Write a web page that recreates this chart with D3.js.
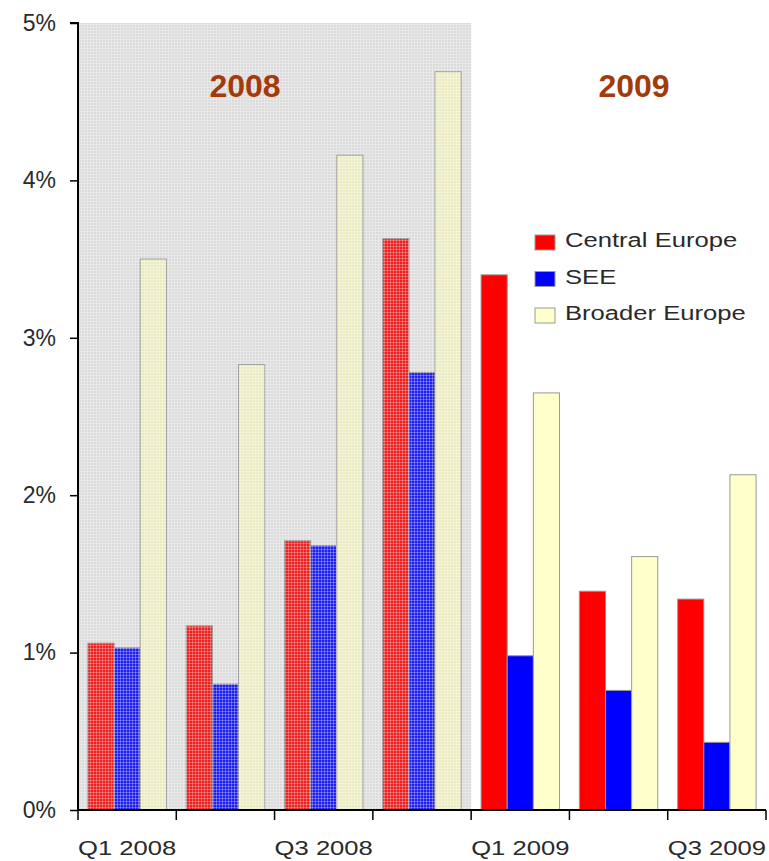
<!DOCTYPE html>
<html>
<head>
<meta charset="utf-8">
<script src="https://cdn.jsdelivr.net/npm/d3@7"></script>
<style>
  html, body { margin: 0; padding: 0; background: #fff; }
  svg { display: block; font-family: "Liberation Sans", Arial, sans-serif; }
</style>
</head>
<body>
<svg id="chart" width="769" height="861"></svg>
<script>
// Quarterly values (percent) by region
const quarters = ["Q1 2008", "Q2 2008", "Q3 2008", "Q4 2008", "Q1 2009", "Q2 2009", "Q3 2009"];
const quarterLabels = ["Q1 2008", "", "Q3 2008", "", "Q1 2009", "", "Q3 2009"];
const seriesNames = ["Central Europe", "SEE", "Broader Europe"];
const centralEurope = [1.06, 1.17, 1.71, 3.63, 3.40, 1.39, 1.34];
const see = [1.03, 0.80, 1.68, 2.78, 0.98, 0.76, 0.43];
const broaderEurope = [3.50, 2.83, 4.16, 4.69, 2.65, 1.61, 2.13];
const seriesColors = ["#ff0000", "#0000ff", "#ffffcc"];
const yTicks = [0, 1, 2, 3, 4, 5];
const periods = [
  { label: "2008", from: "Q1 2008", to: "Q4 2008", shaded: true },
  { label: "2009", from: "Q1 2009", to: "Q3 2009", shaded: false }
];

const seriesValues = [centralEurope, see, broaderEurope];
const svg = d3.select("#chart");
const margin = { top: 23, right: 3, bottom: 51, left: 78 };
const W = 769, H = 861;
const x0 = margin.left, x1 = W - margin.right;
const yTop = margin.top, yBot = H - margin.bottom;
const stretch = 1.22;
const textColor = "#2a2a2a";

const x = d3.scaleBand().domain(quarters).range([x0, x1]).paddingInner(0).paddingOuter(0);
const xs = d3.scaleBand().domain(seriesNames).range([0, x.bandwidth()]).paddingInner(0).paddingOuter(0.38);
const y = d3.scaleLinear().domain([0, 5]).range([yBot, yTop]);

// Fine grid textures
const defs = svg.append("defs");
const bgPat = defs.append("pattern").attr("id", "gridBg")
  .attr("patternUnits", "userSpaceOnUse").attr("width", 3).attr("height", 3);
bgPat.append("rect").attr("width", 3).attr("height", 3).attr("fill", "#dadada");
bgPat.append("rect").attr("width", 3).attr("height", 1).attr("fill", "#e9e9e9");
bgPat.append("rect").attr("width", 1).attr("height", 3).attr("fill", "#e9e9e9");

const ovPat = defs.append("pattern").attr("id", "gridOverlay")
  .attr("patternUnits", "userSpaceOnUse").attr("width", 3).attr("height", 3);
ovPat.append("rect").attr("width", 3).attr("height", 3).attr("fill", "#a0a0a0").attr("opacity", 0.2);
ovPat.append("rect").attr("width", 3).attr("height", 1).attr("fill", "#ffffff").attr("opacity", 0.28);
ovPat.append("rect").attr("width", 1).attr("height", 3).attr("fill", "#ffffff").attr("opacity", 0.28);

// Shaded background for the 2008 period
const shadedPeriods = periods.filter(p => p.shaded);
svg.append("g").selectAll("rect").data(shadedPeriods).join("rect")
  .attr("x", d => x(d.from))
  .attr("y", yTop)
  .attr("width", d => x(d.to) + x.bandwidth() - x(d.from))
  .attr("height", yBot - yTop)
  .attr("fill", "url(#gridBg)");

// Bars
const barData = [];
quarters.forEach((q, qi) => {
  seriesNames.forEach((s, si) => {
    barData.push({ q, s, si, v: seriesValues[si][qi] });
  });
});
svg.append("g").selectAll("rect").data(barData).join("rect")
  .attr("x", d => x(d.q) + xs(d.s))
  .attr("y", d => y(d.v))
  .attr("width", xs.bandwidth())
  .attr("height", d => y(0) - y(d.v))
  .attr("fill", d => seriesColors[d.si])
  .attr("stroke", "#999")
  .attr("stroke-width", 1);

// Texture over the bars in the shaded period
const shadedQuarters = new Set();
shadedPeriods.forEach(p => {
  const a = quarters.indexOf(p.from), b = quarters.indexOf(p.to);
  quarters.slice(a, b + 1).forEach(q => shadedQuarters.add(q));
});
svg.append("g").selectAll("rect").data(barData.filter(d => shadedQuarters.has(d.q))).join("rect")
  .attr("x", d => x(d.q) + xs(d.s))
  .attr("y", d => y(d.v))
  .attr("width", xs.bandwidth())
  .attr("height", d => y(0) - y(d.v))
  .attr("fill", "url(#gridOverlay)");

// Period headings
const headingX = { "2008": 245, "2009": 634 };
svg.append("g").selectAll("text").data(periods).join("text")
  .attr("x", d => headingX[d.label])
  .attr("y", 97)
  .attr("text-anchor", "middle")
  .attr("font-size", 32)
  .attr("font-weight", "bold")
  .attr("fill", "#a33a0c")
  .text(d => d.label);

// Y axis
const yAxis = svg.append("g")
  .attr("transform", `translate(${x0},0)`)
  .call(d3.axisLeft(y).tickValues(yTicks).tickSize(8).tickPadding(14).tickFormat(d => d + "%"));
yAxis.select(".domain").attr("stroke", "#000").attr("stroke-width", 2).attr("d", `M-8,${yTop}H0V${yBot}`);
yAxis.selectAll(".tick line").attr("stroke", "#000").attr("stroke-width", 1.5);
yAxis.selectAll(".tick text").attr("font-size", 23).attr("fill", textColor)
  .attr("font-family", "Liberation Sans, Arial, sans-serif");

// X axis: boundary ticks and labels under alternate quarters
const xAxis = svg.append("g").attr("transform", `translate(0,${yBot})`);
xAxis.append("line").attr("x1", x0).attr("x2", x1).attr("y1", 0).attr("y2", 0)
  .attr("stroke", "#000").attr("stroke-width", 2);
const boundaries = quarters.map(q => x(q)).concat([x(quarters[quarters.length - 1]) + x.bandwidth()]);
xAxis.selectAll("line.tick").data(boundaries).join("line").attr("class", "tick")
  .attr("x1", d => d).attr("x2", d => d).attr("y1", 0).attr("y2", 10)
  .attr("stroke", "#000").attr("stroke-width", 1.5);
xAxis.selectAll("text").data(quarters).join("text")
  .attr("transform", (d, i) => `translate(${x(d) + x.bandwidth() / 2},45) scale(${stretch},1)`)
  .attr("text-anchor", "middle")
  .attr("font-size", 21)
  .attr("fill", textColor)
  .text((d, i) => quarterLabels[i]);

// Legend
const legend = svg.append("g").attr("transform", "translate(535,235)");
legend.append("rect").attr("x", -8).attr("y", -14).attr("width", 225).attr("height", 108).attr("fill", "#fff");
const rowH = 36.5;
const items = legend.selectAll("g.item").data(seriesNames).join("g").attr("class", "item")
  .attr("transform", (d, i) => `translate(0,${i * rowH})`);
items.append("rect").attr("x", 0).attr("y", 0).attr("width", 20).attr("height", 15)
  .attr("fill", (d, i) => seriesColors[i]).attr("stroke", "#999").attr("stroke-width", 1);
items.append("text")
  .attr("transform", `translate(30,12) scale(${stretch},1)`)
  .attr("font-size", 21)
  .attr("fill", textColor)
  .text(d => d);
</script>
</body>
</html>
